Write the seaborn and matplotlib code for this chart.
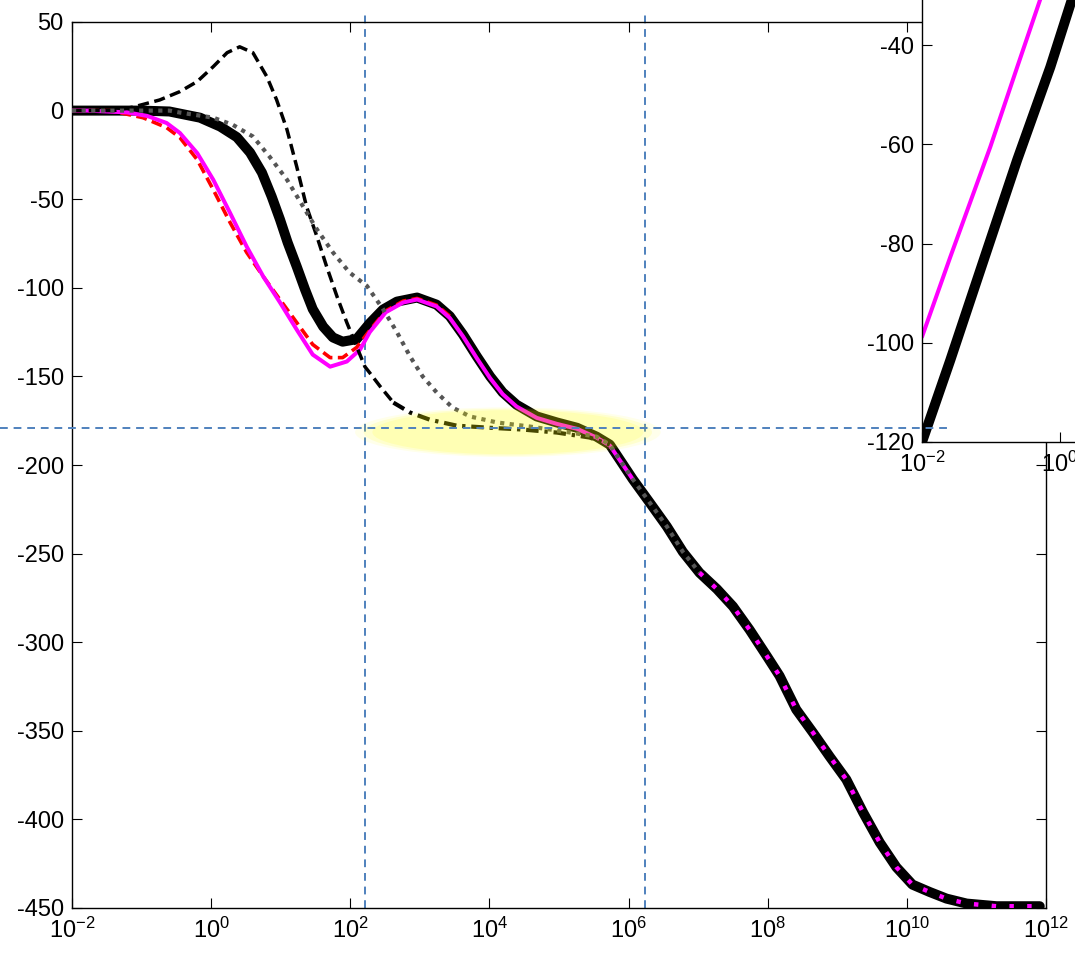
import numpy as np
import matplotlib
matplotlib.use('Agg')
import matplotlib.pyplot as plt
import seaborn as sns
from matplotlib.patches import Ellipse
from matplotlib.lines import Line2D
from matplotlib.ticker import NullLocator
from matplotlib.transforms import blended_transform_factory

# Phase curves (x given as log10 of frequency, y in degrees)
black_logw = [-2.0, -1.0, -0.6, -0.45, -0.16, 0.13, 0.37, 0.56, 0.73, 0.87, 0.99, 1.10, 1.23, 1.35,
              1.46, 1.61, 1.75, 1.89, 2.09, 2.28, 2.47, 2.67, 2.96, 3.24, 3.43, 3.62, 3.82, 4.01,
              4.19, 4.39, 4.68, 4.97, 5.26, 5.54]
black_phase = [0, 0, -0.5, -1.7, -4, -9, -15, -23.7, -35, -48.5, -61.5, -74.5, -88, -101,
               -112, -121.9, -128, -130.4, -129, -120, -112.3, -107.8, -105.5, -109.5, -116, -126.4,
               -138.8, -150, -159, -166, -172.6, -176, -179, -184]

# shared high-frequency tail
tail_logw = [5.73, 6.06, 6.30, 6.55, 6.78, 7.02, 7.27, 7.50, 7.74, 7.99, 8.17, 8.41, 8.65, 8.89,
             9.13, 9.37, 9.61, 9.85, 10.08, 10.33, 10.57, 10.86, 11.29, 11.91]
tail_phase = [-188.5, -208, -221, -234.7, -249, -260.8, -270, -279.8, -293, -308, -319, -338, -351,
              -364.5, -377.5, -396, -413, -427, -436.8, -441, -444.7, -447.5, -449, -449]

magenta_logw = [-2.0, -1.78, -1.21, -0.92, -0.64, -0.45, -0.20, 0.03, 0.27, 0.51, 0.75, 0.99, 1.23,
                1.46, 1.71, 1.95, 2.14, 2.28, 2.51, 2.76, 2.96, 3.24, 3.43, 3.62, 3.82, 4.01, 4.19,
                4.39, 4.68, 4.97, 5.26, 5.54, 5.73, 6.06]
magenta_phase = [0, 0, -1, -3, -7, -12.6, -24, -39, -57.6, -76.7, -93.7, -108.3, -123.6,
                 -137.7, -144.5, -141.6, -134.9, -125, -113.8, -108.3, -106.6, -110.5, -117, -127.4,
                 -139.8, -151, -160, -167, -173.4, -176.8, -179.6, -184.5, -189, -208]

red_logw = [-2.0, -1.45, -0.98, -0.64, -0.45, -0.20, 0.03, 0.27, 0.51, 0.75, 0.99, 1.23, 1.46, 1.71,
            1.89, 2.09, 2.28, 2.51, 2.76, 2.96, 3.24, 3.43]
red_phase = [0, 0, -4, -9.6, -15.2, -27.7, -44.6, -63, -80, -93.7, -106.7, -119.6, -132, -139.4,
             -139.4, -133.7, -124, -113, -107.5, -106, -109.8, -116]

dashed_logw = [-2.0, -1.4, -1.12, -0.74, -0.45, -0.20, 0.03, 0.23, 0.41, 0.60, 0.80, 0.94, 1.09,
               1.23, 1.37, 1.52, 1.66, 1.81, 1.95, 2.09, 2.21, 2.28, 2.43, 2.62]
dashed_phase = [0, 0, 2, 6, 10.7, 16.4, 24.8, 32.7, 36, 32.7, 19.2, 6.2, -10.7,
                -31.6, -54, -71, -88, -105, -119.6, -133, -144.5, -148, -155.7, -164.8]

# continuation of the dashed curve, drawn dash-dot
dashdot_logw = [2.62, 2.86, 3.14, 3.53, 4.01, 4.48, 4.97, 5.44, 5.73]
dashdot_phase = [-164.8, -170.4, -174.4, -177.8, -179, -180, -181.7, -184.5, -188.5]

dotted_logw = [-2.0, -0.6, -0.45, 0.03, 0.31, 0.60, 0.84, 1.09, 1.32, 1.52, 1.75, 1.99, 2.24, 2.47,
               2.67, 2.86, 3.04, 3.24, 3.47, 3.72, 4.11, 4.58, 5.05, 5.54, 5.73, 6.06, 6.30, 6.55,
               6.78, 7.02]
dotted_phase = [0, 0, -1.1, -4, -8, -14.6, -26, -39, -54, -67, -80, -91.4, -99, -112,
                -125, -138.8, -150, -159, -167.6, -172.6, -176, -178.3, -181, -184, -188.5, -208,
                -221, -234.7, -249, -260.8]

# inset curves
inset_mag_logw = [-2.0, -1.59, -1.01, -0.62, -0.29, 0.0]
inset_mag_val = [-98.8, -82.7, -60.5, -44.4, -30.9, -19]
inset_blk_logw = [-2.0, -1.59, -1.12, -0.62, -0.14, 0.17, 0.40]
inset_blk_val = [-120, -103.5, -83.9, -63.1, -44.4, -30.9, -21]

# reference lines
ref_phase = -179
ref_logw = [2.21, 6.23]


def fq(logw):
    return 10.0 ** np.array(logw)


sns.set_theme(style='ticks')
plt.rcParams['font.family'] = ['Liberation Sans', 'DejaVu Sans']
plt.rcParams['mathtext.fontset'] = 'custom'
plt.rcParams['mathtext.rm'] = 'Liberation Sans'
plt.rcParams['mathtext.it'] = 'Liberation Sans:italic'
plt.rcParams['mathtext.default'] = 'regular'
plt.rcParams['axes.unicode_minus'] = False

FS = 17
W, H = 1075, 957
fig = plt.figure(figsize=(W / 100, H / 100), dpi=100)
ax = fig.add_axes([72 / W, 49 / H, 974 / W, 886 / H])
ax.set_xscale('log')

common = dict(ax=ax, estimator=None, sort=False, legend=False)
sns.lineplot(x=fq(black_logw + tail_logw), y=black_phase + tail_phase, color='black',
             linewidth=7.2, zorder=3, **common)
sns.lineplot(x=fq(red_logw), y=red_phase, color='red', linewidth=2.6,
             linestyle=(0, (3, 1.5)), zorder=4, **common)
sns.lineplot(x=fq(magenta_logw), y=magenta_phase, color='magenta', linewidth=2.9, zorder=5, **common)
sns.lineplot(x=fq(dashed_logw), y=dashed_phase, color='black', linewidth=2.5,
             linestyle=(0, (3.2, 1.6)), zorder=6, **common)
sns.lineplot(x=fq(dashdot_logw), y=dashdot_phase, color='black', linewidth=3,
             linestyle=(0, (3, 1.4, 0.8, 1.4)), zorder=6, **common)
sns.lineplot(x=fq(dotted_logw), y=dotted_phase, color='#555555', linewidth=3,
             linestyle=(0, (1, 1.3)), zorder=7, **common)
sns.lineplot(x=fq(tail_logw[5:]), y=tail_phase[5:], color='magenta', linewidth=3.2,
             linestyle=(0, (1, 3)), zorder=8, **common)

# highlighted region (soft edge built from a few stacked ellipses)
for grow, a in [(1.06, 0.08), (1.0, 0.12), (0.94, 0.12)]:
    ax.add_patch(Ellipse((0.4475, 0.537), 0.296 * grow, 0.053 * grow, transform=ax.transAxes,
                         facecolor='yellow', edgecolor='none', alpha=a, zorder=9))

for lw_ in ref_logw:
    ax.axvline(10 ** lw_, ymin=0, ymax=1.008, color='#4f81bd', linewidth=1.4,
               linestyle=(0, (4, 3)), clip_on=False, zorder=2)

ax.set_xlim(1e-2, 1e12)
ax.set_ylim(-450, 50)
xt = np.arange(-2, 13, 2)
ax.set_xticks(10.0 ** xt)
ax.set_xticklabels([f'$10^{{{e}}}$' for e in xt])
ax.xaxis.set_minor_locator(NullLocator())
ax.set_yticks(np.arange(-450, 51, 50))
ax.set_yticklabels([str(v) for v in np.arange(-450, 51, 50)])
ax.tick_params(direction='in', length=7, width=0.8, top=True, right=True, bottom=True, left=True,
               labelsize=FS, colors='black')
ax.tick_params(axis='x', pad=7)
ax.tick_params(axis='y', pad=6)
for sp in ax.spines.values():
    sp.set_color('black')
    sp.set_linewidth(1.0)
ax.set_xlabel('')
ax.set_ylabel('')

# inset (partly outside the figure)
ins = fig.add_axes([922 / W, (H - 442) / H, 276 / W, 496 / H])
ins.set_xscale('log')
sns.lineplot(x=fq(inset_blk_logw), y=inset_blk_val, ax=ins, color='black', linewidth=7.2,
             estimator=None, sort=False)
sns.lineplot(x=fq(inset_mag_logw), y=inset_mag_val, ax=ins, color='magenta', linewidth=2.9,
             estimator=None, sort=False)
ins.set_xlim(1e-2, 1e2)
ins.set_ylim(-120, -20)
ins.set_xticks([1e-2, 1e0, 1e2])
ins.set_xticklabels(['$10^{-2}$', '$10^{0}$', '$10^{2}$'])
ins.xaxis.set_minor_locator(NullLocator())
ins.set_yticks([-120, -100, -80, -60, -40])
ins.set_yticklabels(['-120', '-100', '-80', '-60', '-40'])
ins.tick_params(direction='in', length=7, width=0.8, labelsize=FS, colors='black', top=False, right=False)
ins.tick_params(axis='x', pad=7)
ins.tick_params(axis='y', pad=6)
for sp in ins.spines.values():
    sp.set_color('black')
    sp.set_linewidth(1.0)
ins.set_xlabel('')
ins.set_ylabel('')

# horizontal reference line drawn over everything, across the figure
trans = blended_transform_factory(fig.transFigure, ax.transData)
fig.add_artist(Line2D([0, 952 / W], [ref_phase, ref_phase], transform=trans, color='#4f81bd',
                      linewidth=1.4, linestyle=(0, (4, 3)), zorder=10))

fig.savefig('out.png', dpi=100)
